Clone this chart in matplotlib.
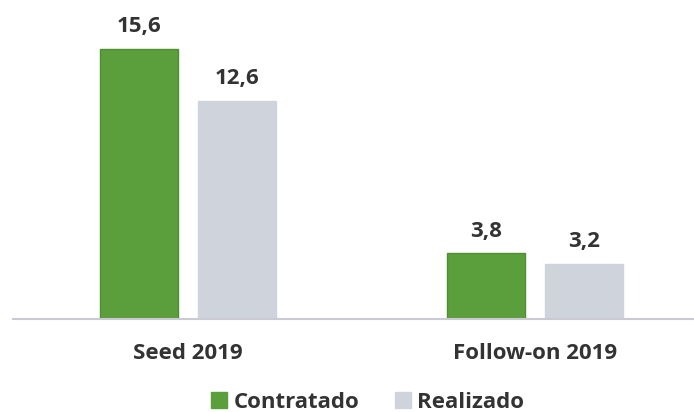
import matplotlib
matplotlib.use("Agg")
import matplotlib.pyplot as plt
from matplotlib.patches import Patch
import numpy as np

categories = ["Seed 2019", "Follow-on 2019"]
series_names = ["Contratado", "Realizado"]
contratado = [15.6, 3.8]
realizado = [12.6, 3.2]

green = "#5b9e3c"
green_edge = "#4f8f31"
grey = "#cfd3dc"
text_color = "#333333"

plt.rcParams["font.family"] = ["Open Sans", "DejaVu Sans"]

fig = plt.figure(figsize=(6.94, 4.12), dpi=100)
ax = fig.add_axes([13 / 694, 93 / 412, 680 / 694, 311.5 / 412])

x = np.arange(len(categories))
width = 0.225
offset = 0.141

b1 = ax.bar(x - offset, contratado, width, color=green, edgecolor=green_edge, linewidth=1)
b2 = ax.bar(x + offset, realizado, width, color=grey, edgecolor=grey, linewidth=1)

def fmt(v):
    return f"{v:.1f}".replace(".", ",")

for bars, vals in ((b1, contratado), (b2, realizado)):
    for rect, v in zip(bars, vals):
        ax.annotate(fmt(v), (rect.get_x() + rect.get_width() / 2, v),
                    xytext=(0, 12), textcoords="offset points",
                    ha="center", va="baseline", fontsize=16,
                    fontweight="bold", color=text_color)

ax.set_xlim(-0.504, 1.455)
ax.set_ylim(0, 18)
ax.set_xticks(x)
ax.set_xticklabels(categories, fontsize=16, fontweight="bold", color=text_color)
ax.tick_params(axis="x", length=0, pad=17)
ax.set_yticks([])
for side in ("top", "left", "right"):
    ax.spines[side].set_visible(False)
ax.spines["bottom"].set_color("#c9cad3")
ax.spines["bottom"].set_linewidth(1.5)

handles = [Patch(facecolor=green, edgecolor=green), Patch(facecolor=grey, edgecolor=grey)]
leg = fig.legend(handles, series_names, loc="lower center", bbox_to_anchor=(0.53, -0.05),
                 ncol=2, frameon=False, handlelength=0.7, handleheight=0.7,
                 handletextpad=0.3, columnspacing=1.6,
                 prop={"size": 16, "weight": "bold"})
for t in leg.get_texts():
    t.set_color(text_color)

fig.savefig("out.png", dpi=100, facecolor="white")
